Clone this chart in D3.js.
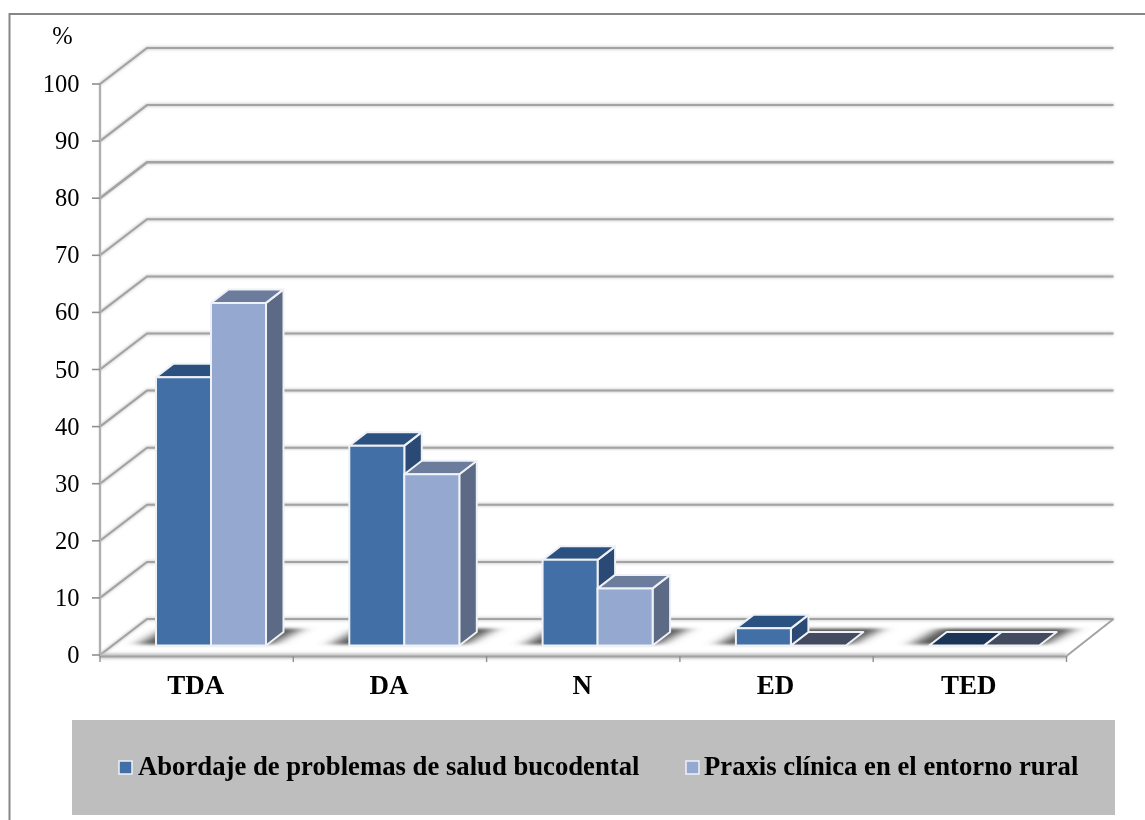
<!DOCTYPE html>
<html><head><meta charset="utf-8">
<script src="https://cdn.jsdelivr.net/npm/d3@7"></script>
<style>html,body{margin:0;padding:0;background:#fff}svg{display:block}text{font-family:"Liberation Serif",serif;fill:#000}</style>
</head><body><svg id="c" width="1145" height="820"></svg>
<script>
const categories = ["TDA","DA","N","ED","TED"];
const seriesNames = ["Abordaje de problemas de salud bucodental","Praxis clínica en el entorno rural"];
const series1 = [47,35,15,3,0];
const series2 = [60,30,10,0,0];
const yTicks = [0,10,20,30,40,50,60,70,80,90,100];

const svg = d3.select("#c");
const defs = svg.append("defs");
defs.append("filter").attr("id","soft").attr("filterUnits","userSpaceOnUse").attr("x",0).attr("y",0).attr("width",1145).attr("height",820)
  .append("feGaussianBlur").attr("stdDeviation",0.5);
defs.append("filter").attr("id","softText").attr("filterUnits","userSpaceOnUse").attr("x",0).attr("y",0).attr("width",1145).attr("height",820)
  .append("feGaussianBlur").attr("stdDeviation",0.35);
defs.append("filter").attr("id","shadow").attr("filterUnits","userSpaceOnUse").attr("x",0).attr("y",0).attr("width",1145).attr("height",820)
  .append("feGaussianBlur").attr("stdDeviation","8 1.6");
defs.append("filter").attr("id","glow").attr("filterUnits","userSpaceOnUse").attr("x",0).attr("y",0).attr("width",1145).attr("height",820)
  .append("feGaussianBlur").attr("stdDeviation",1.4);

const x = d3.scaleBand().domain(categories).range([100,1066.5]).padding(0);
const y = d3.scaleLinear().domain([0,100]).range([655,84]);
const wall = {dx:47, dy:-36};
const barOff = {dx:9, dy:-9.5};
const depth = {dx:17.5, dy:-13.5};
const groupPad = 47, barW = 55;

svg.append("path").attr("d","M9.5,820V14H1145").attr("fill","none").attr("stroke","#868686").attr("stroke-width",2);

const plot = svg.append("g").attr("filter","url(#soft)");
const gridColor = "#a3a3a3";
const left = x.range()[0], right = x.range()[1];

const glow = plot.append("g").attr("filter","url(#glow)");
yTicks.forEach(t=>{
  glow.append("path").attr("d",`M${left},${y(t)}L${left+wall.dx},${y(t)+wall.dy}H${right+wall.dx}`)
    .attr("fill","none").attr("stroke","#bdbdbd").attr("stroke-width",2.5);
});
yTicks.forEach(t=>{
  plot.append("path").attr("d",`M${left},${y(t)}L${left+wall.dx},${y(t)+wall.dy}H${right+wall.dx}`)
    .attr("fill","none").attr("stroke",gridColor).attr("stroke-width",t===80?2.6:2);
});
plot.append("path").attr("d",`M${right},${y(0)+1}L${right+wall.dx},${y(0)+wall.dy}`).attr("fill","none").attr("stroke",gridColor).attr("stroke-width",2);
plot.append("path").attr("d",`M${left},${y(0)+1}H${right}`).attr("fill","none").attr("stroke","#bdbdbd").attr("stroke-width",5).attr("filter","url(#glow)");
plot.append("path").attr("d",`M${left},${y(0)+1.5}H${right}`).attr("fill","none").attr("stroke",gridColor).attr("stroke-width",2);
plot.append("path").attr("d",`M${left},${y(100)}V${y(0)+1}`).attr("fill","none").attr("stroke","#b0b0b0").attr("stroke-width",2.4);
yTicks.forEach(t=>{
  plot.append("path").attr("d",`M${left-8},${y(t)}H${left}`).attr("stroke","#8f8f8f").attr("stroke-width",1.6);
});
x.domain().concat(["__end"]).forEach((c,i)=>{
  const px = left + i*x.step();
  plot.append("path").attr("d",`M${px},${y(0)+1}V${y(0)+7}`).attr("stroke","#8f8f8f").attr("stroke-width",1.4);
});

const styles = [
 {front:"#4270a6",top:"#2c5180",side:"#2a4a75",flat:"#1f3557"},
 {front:"#94a8d0",top:"#6c7c9c",side:"#5c6b85",flat:"#434b60"}
];
const pt = (px,py)=>`${px},${py}`;
function groupX(c){return x(c)+groupPad+barOff.dx;}
categories.forEach(c=>{
  const x0 = groupX(c), x1 = x0+2*barW, yb = y(0)+barOff.dy;
  plot.append("polygon").attr("filter","url(#shadow)").attr("fill","#555")
    .attr("points",[pt(x0-18,yb-1),pt(x1+6,yb-1),pt(x1+36,yb-17),pt(x0+10,yb-17)].join(" "));
});
function drawBar(g,c,si,v){
  const s = styles[si];
  const x0 = groupX(c)+si*barW, x1 = x0+barW, yb = y(0)+barOff.dy;
  const yt = yb-(y(0)-y(v));
  const st = {stroke:"#eef1f6","stroke-width":2,"stroke-linejoin":"round"};
  const poly = (pts,fill)=>{const p=g.append("polygon").attr("points",pts.join(" ")).attr("fill",fill);Object.entries(st).forEach(([k,val])=>p.attr(k,val));};
  if(v===0){
    poly([pt(x0,yb),pt(x1,yb),pt(x1+depth.dx,yb+depth.dy),pt(x0+depth.dx,yb+depth.dy)],s.flat);
    return;
  }
  poly([pt(x1,yb),pt(x1+depth.dx,yb+depth.dy),pt(x1+depth.dx,yt+depth.dy),pt(x1,yt)],s.side);
  poly([pt(x0,yt),pt(x1,yt),pt(x1+depth.dx,yt+depth.dy),pt(x0+depth.dx,yt+depth.dy)],s.top);
  poly([pt(x0,yb),pt(x1,yb),pt(x1,yt),pt(x0,yt)],s.front);
}
categories.forEach((c,i)=>{
  const g = plot.append("g");
  if(series2[i]===0 && series1[i]>0){ drawBar(g,c,1,series2[i]); drawBar(g,c,0,series1[i]); }
  else { drawBar(g,c,0,series1[i]); drawBar(g,c,1,series2[i]); }
});

const texts = svg.append("g").attr("filter","url(#softText)");
texts.append("g").selectAll("text").data(yTicks).join("text")
  .attr("x",79.5).attr("y",d=>y(d)+8).attr("text-anchor","end").attr("font-size",24.5).text(d=>d);
texts.append("text").attr("x",62.5).attr("y",44).attr("text-anchor","middle").attr("font-size",24.5).text("%");
texts.append("g").selectAll("text").data(categories).join("text")
  .attr("x",d=>x(d)+x.step()/2-1).attr("y",694).attr("text-anchor","middle")
  .attr("font-size",27).attr("font-weight","bold").text(d=>d);

svg.append("rect").attr("x",72).attr("y",720).attr("width",1043).attr("height",95).attr("fill","#bebebe");
const lg = [{sx:119,tx:138},{sx:686,tx:704}];
lg.forEach((l,i)=>{
  svg.append("rect").attr("x",l.sx).attr("y",761).attr("width",13).attr("height",13)
    .attr("fill",styles[i].front).attr("stroke","#eef1f6").attr("stroke-width",1.5);
  svg.append("text").attr("x",l.tx).attr("y",775).attr("font-size",26.7).attr("font-weight","bold").attr("filter","url(#softText)").text(seriesNames[i]);
});
</script></body></html>
